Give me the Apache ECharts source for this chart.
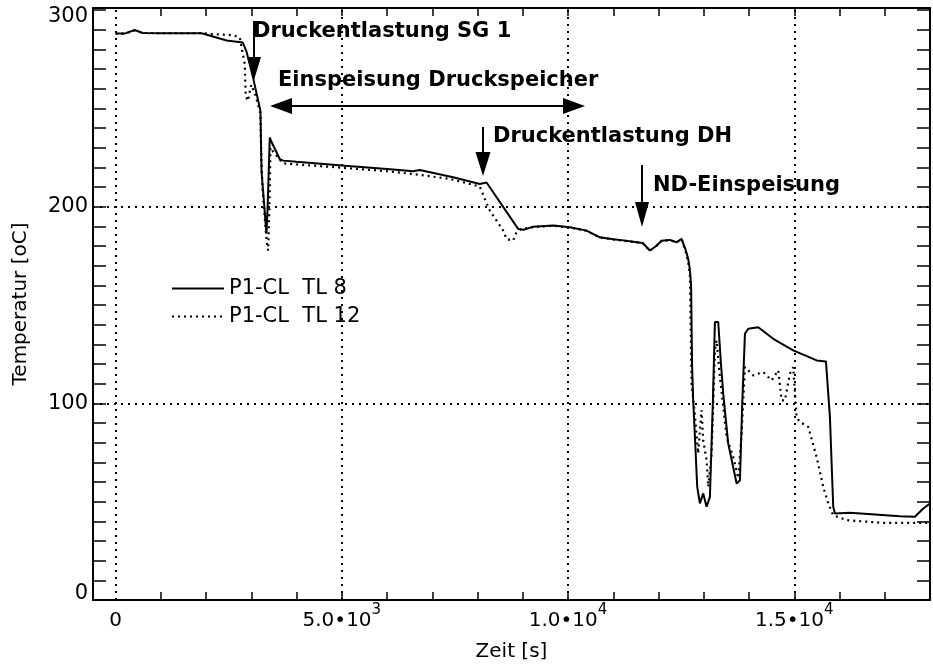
<!DOCTYPE html>
<html><head><meta charset="utf-8">
<script src="https://cdn.jsdelivr.net/npm/echarts@6/dist/echarts.min.js"></script>
<style>html,body{margin:0;padding:0;background:#fff}#c{width:933px;height:667px}</style>
</head><body><div id="c"></div>
<script>
// ---------- data ----------
const seriesNames = ['P1-CL  TL 8', 'P1-CL  TL 12'];
const tl8 = [[0,288],[200,288],[420,289.8],[600,288.3],[1000,288.2],[1900,288.2],[2150,286.5],[2456,284.5],[2811,283.4],[2891,279],[3038,265.6],[3201,248.7],[3215,230],[3225,218],[3245,212],[3270,205],[3300,196],[3334,186.3],[3360,200],[3407,235.2],[3444,233],[3628,224.2],[3701,223.4],[4000,222.8],[5065,220.8],[6000,219.2],[6575,218],[6723,218.6],[7459,214.9],[8050,211.5],[8198,212.3],[8897,188.7],[9008,188.2],[9229,189.8],[9671,190.4],[10040,189.5],[10409,187.8],[10703,184.4],[10997,183.4],[11146,183.1],[11440,182.2],[11650,181.5],[11808,177.7],[11950,180],[12067,182.7],[12251,183.1],[12398,181.9],[12509,183.6],[12600,178],[12655,173.5],[12693,168],[12720,160],[12740,120],[12766,101.5],[12800,85],[12855,57.5],[12914,49.1],[12987,54.2],[13062,47.4],[13135,52.4],[13200,100],[13246,141.3],[13319,141.3],[13380,120],[13430,104.9],[13540,79.5],[13726,59.2],[13799,60.9],[13850,100],[13910,135.4],[13983,137.9],[14204,138.7],[14535,132.8],[14977,126.9],[15494,121.8],[15700,121.3],[15788,93],[15861,47.4],[15899,44],[16230,44.3],[17336,42.6],[17667,42.3],[17851,46.5],[18000,49.1]];
const tl12 = [[0,288],[200,288],[420,289.5],[600,288.3],[1900,288.2],[2152,287.7],[2595,287.2],[2744,286],[2854,272.4],[2876,256],[2927,253.8],[2960,258],[3000,262],[3100,256],[3201,247],[3220,225],[3250,208],[3280,200],[3310,190],[3340,182],[3370,177.7],[3400,200],[3422,230],[3480,228],[3700,222],[5000,219.8],[6000,218],[6575,216.6],[7387,214.1],[8050,210.2],[8161,203.9],[8271,198],[8419,192.9],[8566,187.8],[8640,183.6],[8787,182.7],[8861,187],[8950,188.5],[9229,189.6],[9671,190.3],[10040,189.4],[10409,187.7],[10703,184.3],[10997,183.3],[11440,182.1],[11650,181.4],[11808,177.6],[11950,180],[12067,182.6],[12251,183],[12398,181.8],[12509,183.5],[12600,177],[12655,172],[12693,165],[12730,110],[12800,95],[12876,74.5],[12950,96.5],[12987,81.2],[13062,71.1],[13099,57.5],[13173,74.5],[13246,126.9],[13283,132],[13350,115],[13504,82.9],[13651,72.7],[13762,62],[13836,84.6],[13910,118.4],[13946,119.3],[14093,114.2],[14314,115.9],[14499,111.7],[14646,116.8],[14720,101.5],[14793,101.5],[14904,115.1],[14977,118.4],[15051,93],[15125,90.5],[15309,88],[15494,72.7],[15641,57.5],[15751,49.1],[15861,43.1],[16157,40.6],[16967,39.2],[18000,39.2]];
const xTickValues = [0, 5000, 10000, 15000];
const xTickLabels = ['{b|0}', '{b|5.0•10}{s|3}', '{b|1.0•10}{s|4}', '{b|1.5•10}{s|4}'];
const yTickValues = [0, 100, 200, 300];
const yTickLabels = ['{lo|0}', '{m|100}', '{m|200}', '{hi|300}'];
const xGridValues = [0, 5000, 10000, 15000];
const yGridValues = [100, 200];
const xMinorTicks = []; for (let v = 1000; v <= 18000; v += 1000) xMinorTicks.push(v);
const yMinorTicks = []; for (let v = 10; v <= 300; v += 10) yMinorTicks.push(v);
const annotationTexts = ['Druckentlastung SG 1', 'Einspeisung Druckspeicher', 'Druckentlastung DH', 'ND-Einspeisung'];
const xName = 'Zeit [s]';
const yName = 'Temperatur [oC]';

// ---------- chart ----------
const FONT = 'DejaVu Sans';
const chart = echarts.init(document.getElementById('c'), null, {renderer: 'canvas'});
const axisLine = {show: true, onZero: false, lineStyle: {color: '#000', width: 2}};
const X_MIN = -500, X_MAX = 18000, Y_MIN = 0, Y_MAX = 301;

function xAxisDef(pos, withLabels) {
  return {
    type: 'value', min: X_MIN, max: X_MAX, position: pos,
    axisLine: axisLine,
    splitLine: {show: false},
    axisTick: {show: true, inside: true, length: 8, customValues: xMinorTicks, lineStyle: {color: '#000', width: 1.5}},
    axisLabel: withLabels ? {
      show: true, customValues: xTickValues, margin: 3,
      formatter: v => xTickLabels[xTickValues.indexOf(v)],
      color: '#000', fontFamily: FONT,
      rich: {
        b: {fontSize: 20, lineHeight: 36, fontFamily: FONT, color: '#000', verticalAlign: 'middle'},
        s: {fontSize: 15, lineHeight: 15, fontFamily: FONT, color: '#000', verticalAlign: 'top'}
      }
    } : {show: false},
    name: withLabels ? xName : '', nameLocation: 'middle', nameGap: 42, nameMoveOverlap: false,
    nameTextStyle: {fontFamily: FONT, fontSize: 20, color: '#000'}
  };
}
function yAxisDef(pos, withLabels) {
  return {
    type: 'value', min: Y_MIN, max: Y_MAX, position: pos,
    axisLine: axisLine,
    splitLine: {show: false},
    axisTick: {show: true, inside: true, length: 13, customValues: yMinorTicks, lineStyle: {color: '#000', width: 1.5}},
    axisLabel: withLabels ? {
      show: true, customValues: yTickValues, margin: 5,
      formatter: v => yTickLabels[yTickValues.indexOf(v)],
      color: '#000', fontFamily: FONT, align: 'right',
      rich: {
        m: {fontSize: 21, fontFamily: FONT, color: '#000'},
        lo: {fontSize: 21, fontFamily: FONT, color: '#000', padding: [0, 0, 12, 0]},
        hi: {fontSize: 21, fontFamily: FONT, color: '#000', padding: [14, 0, 0, 0]}
      }
    } : {show: false},
    name: withLabels ? yName : '', nameLocation: 'middle', nameGap: 62, nameRotate: 90, nameMoveOverlap: false,
    nameTextStyle: {fontFamily: FONT, fontSize: 20, color: '#000'}
  };
}

const option = {
  animation: false,
  backgroundColor: '#fff',
  grid: {left: 93, right: 3, top: 8, bottom: 67},
  xAxis: [xAxisDef('bottom', true), xAxisDef('top', false)],
  yAxis: [yAxisDef('left', true), yAxisDef('right', false)],
  legend: {
    data: seriesNames, orient: 'vertical', left: 166, top: 273,
    itemWidth: 52, itemHeight: 14, itemGap: 7,
    itemStyle: {opacity: 0},
    textStyle: {fontFamily: FONT, fontSize: 21, color: '#000'},
    selectedMode: false
  },
  series: [
    {
      name: seriesNames[0], type: 'line', xAxisIndex: 0, yAxisIndex: 0, data: tl8,
      symbol: 'none', lineStyle: {color: '#000', width: 2}, itemStyle: {color: '#000'},
      markLine: {
        silent: true, symbol: ['none', 'none'], label: {show: false}, animation: false,
        lineStyle: {color: '#000', type: [2, 5], width: 2},
        data: xGridValues.map(v => ({xAxis: v})).concat(yGridValues.map(v => ({yAxis: v})))
      }
    },
    {
      name: seriesNames[1], type: 'line', xAxisIndex: 0, yAxisIndex: 0, data: tl12,
      symbol: 'none', lineStyle: {color: '#000', width: 2.2, type: [2, 4]}, itemStyle: {color: '#000'}
    }
  ]
};
chart.setOption(option);

// ---------- annotations (pixel layout) ----------
const TF = {fontFamily: FONT, fontWeight: 'bold', fontSize: 21, fill: '#000'};
function downArrow(x, y0, headTop, tip, hw) {
  return [
    {type: 'line', shape: {x1: x, y1: y0, x2: x, y2: headTop + 2}, style: {stroke: '#000', lineWidth: 2}},
    {type: 'polygon', shape: {points: [[x - hw, headTop], [x + hw, headTop], [x, tip]]}, style: {fill: '#000'}}
  ];
}
const els = [];
els.push(...downArrow(254, 21, 57, 80, 7));
els.push(...downArrow(483, 127, 152, 176, 7.5));
els.push(...downArrow(642, 165, 202, 227, 7));
// double arrow
els.push({type: 'line', shape: {x1: 285, y1: 106, x2: 570, y2: 106}, style: {stroke: '#000', lineWidth: 2.2}});
els.push({type: 'polygon', shape: {points: [[270, 106], [292, 98], [292, 114]]}, style: {fill: '#000'}});
els.push({type: 'polygon', shape: {points: [[585, 106], [563, 98], [563, 114]]}, style: {fill: '#000'}});
const textPos = [[253, 32], [278, 81], [493, 137], [653, 186]];
annotationTexts.forEach((t, i) => {
  els.push({type: 'text', x: textPos[i][0], y: textPos[i][1],
    style: Object.assign({text: t, textAlign: 'left', textVerticalAlign: 'middle'}, TF)});
});
chart.setOption({graphic: {elements: els}});
</script>
</body></html>
